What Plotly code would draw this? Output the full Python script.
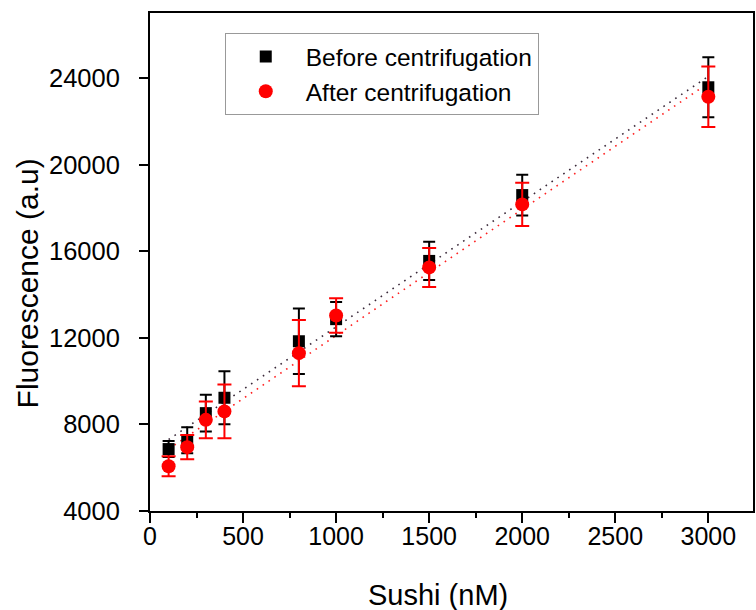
import numpy as np
import plotly.graph_objects as go

sushi_nM = [100, 200, 300, 400, 800, 1000, 1500, 2000, 3000]
before_vals = [6860, 7270, 8520, 9230, 11840, 12860, 15550, 18590, 23570]
before_err = [370, 600, 850, 1220, 1510, 790, 880, 945, 1390]
after_vals = [6070, 6950, 8210, 8600, 11290, 13030, 15250, 18160, 23130]
after_err = [460, 560, 850, 1240, 1530, 800, 900, 1000, 1400]

x_ticks = [0, 500, 1000, 1500, 2000, 2500, 3000]
y_ticks = [4000, 8000, 12000, 16000, 20000, 24000]

FONT = "Liberation Sans, Arial, sans-serif"
W, H = 756, 610
ML, MR, MT, MB = 150, 1, 13, 99
PW, PH = W - ML - MR, H - MT - MB


def px_to_paper(px, py):
    return (px - ML) / PW, 1 - (py - MT) / PH


fig = go.Figure()

# linear fits (derived from data)
xa = np.array(sushi_nM, dtype=float)
fit_x = np.array([xa.min(), xa.max()])
for vals, col in [(before_vals, "#3a2a3a"), (after_vals, "#ff2020")]:
    m, b = np.polyfit(xa, np.array(vals, dtype=float), 1)
    fig.add_trace(go.Scatter(
        x=fit_x, y=m * fit_x + b, mode="lines",
        line=dict(color=col, width=1.6, dash="1.6px,5.5px"),
        showlegend=False, hoverinfo="skip"))

fig.add_trace(go.Scatter(
    x=sushi_nM, y=before_vals, mode="markers", name="Before centrifugation",
    marker=dict(symbol="square", size=12, color="black"),
    error_y=dict(type="data", array=before_err, visible=True,
                 color="black", thickness=2, width=6)))

fig.add_trace(go.Scatter(
    x=sushi_nM, y=after_vals, mode="markers", name="After centrifugation",
    marker=dict(symbol="circle", size=14, color="red"),
    error_y=dict(type="data", array=after_err, visible=True,
                 color="red", thickness=2, width=7)))

lx, ly = px_to_paper(225, 33)
xt_x, xt_y = px_to_paper(439, 595)
yt_x, yt_y = px_to_paper(27, 283)

fig.update_layout(
    width=W, height=H,
    margin=dict(l=ML, r=MR, t=MT, b=MB),
    paper_bgcolor="white", plot_bgcolor="white",
    font=dict(family=FONT, size=24, color="black"),
    showlegend=True,
    legend=dict(x=lx, y=ly, xanchor="left", yanchor="top",
                bgcolor="white", bordercolor="#999999", borderwidth=1,
                font=dict(size=24.5, family=FONT),
                itemwidth=70, tracegroupgap=0),
    annotations=[
        dict(text="Sushi (nM)", x=xt_x, y=xt_y, xref="paper", yref="paper",
             xanchor="center", yanchor="middle",
             showarrow=False, font=dict(size=29, family=FONT)),
        dict(text="Fluorescence (a.u)", x=yt_x, y=yt_y, xref="paper", yref="paper",
             xanchor="center", yanchor="middle", textangle=-90,
             showarrow=False, font=dict(size=30, family=FONT)),
    ],
)

fig.update_xaxes(
    range=[0, 3240], tickvals=x_ticks, ticktext=[str(v) for v in x_ticks],
    showline=True, linecolor="black", linewidth=2, mirror=True,
    ticks="outside", ticklen=10, tickwidth=2, tickcolor="black",
    minor=dict(ticks="outside", ticklen=5, tickwidth=2, tickcolor="black", dtick=250, tick0=0),
    showgrid=False, zeroline=False, ticklabelstandoff=-8,
    tickfont=dict(size=25, family=FONT))
fig.update_yaxes(
    range=[4000, 27000], tickvals=y_ticks, ticktext=[str(v) for v in y_ticks],
    showline=True, linecolor="black", linewidth=2, mirror=True,
    ticks="outside", ticklen=9, tickwidth=2, tickcolor="black",
    showgrid=False, zeroline=False, ticklabelstandoff=14,
    tickfont=dict(size=25.5, family=FONT))

fig.write_html("out.html", config={"displayModeBar": False},
               post_script="document.body.style.margin='0';")
